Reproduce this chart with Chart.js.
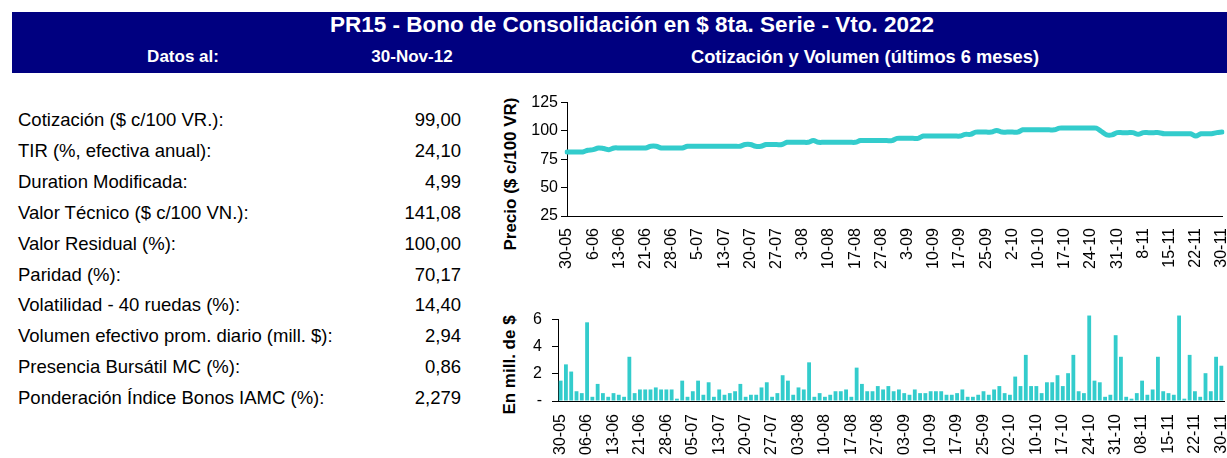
<!DOCTYPE html>
<html lang="es">
<head>
<meta charset="utf-8">
<title>PR15 - Bono de Consolidación en $ 8ta. Serie</title>
<script src="https://cdn.jsdelivr.net/npm/chart.js@4.4.1/dist/chart.umd.min.js"></script>
<style>
  html, body { margin: 0; padding: 0; background: #fff; }
  body { width: 1227px; height: 458px; overflow: hidden; position: relative;
         font-family: "Liberation Sans", Arial, sans-serif; color: #000; }
  .band { position: absolute; left: 12px; top: 12px; width: 1215px; height: 61px; background: #000080; }
  .hdr { position: absolute; color: #fff; font-weight: bold; white-space: nowrap;
         transform: translate(-50%, -50%); }
  .row { position: absolute; left: 18px; width: 443px; height: 22px; font-size: 18.5px; white-space: nowrap; }
  .row .lbl { position: absolute; left: 0; top: 0; }
  .row .val { position: absolute; right: 0; top: 0; }
  .axt { position: absolute; font-weight: bold; font-size: 17px; white-space: nowrap;
         transform: translate(-50%, -50%) rotate(-90deg); }
  canvas { position: absolute; }
</style>
</head>
<body>
<div class="band"></div>
<div class="hdr" style="left:632px;top:25px;font-size:22.5px;">PR15 - Bono de Consolidación en $ 8ta. Serie - Vto. 2022</div>
<div class="hdr" style="left:183px;top:57px;font-size:17px;">Datos al:</div>
<div class="hdr" style="left:412px;top:57px;font-size:17px;">30-Nov-12</div>
<div class="hdr" style="left:865px;top:57px;font-size:18.3px;">Cotización y Volumen (últimos 6 meses)</div>

<div id="tabla"></div>

<div class="axt" style="left:511px;top:174px;">Precio ($ c/100 VR)</div>
<div class="axt" style="left:510px;top:365px;">En mill. de $</div>

<canvas id="precio" width="727" height="190" style="left:500px;top:90px;"></canvas>
<canvas id="volumen" width="737" height="158" style="left:490px;top:300px;"></canvas>

<script>
// Ficha técnica del bono
const indicadores = [
  "Cotización ($ c/100 VR.):",
  "TIR (%, efectiva anual):",
  "Duration Modificada:",
  "Valor Técnico ($ c/100 VN.):",
  "Valor Residual (%):",
  "Paridad (%):",
  "Volatilidad - 40 ruedas (%):",
  "Volumen efectivo prom. diario (mill. $):",
  "Presencia Bursátil MC (%):",
  "Ponderación Índice Bonos IAMC (%):"
];
const valoresIndicadores = ["99,00", "24,10", "4,99", "141,08", "100,00", "70,17", "14,40", "2,94", "0,86", "2,279"];

// Ruedas operadas (dd-mm), 30-05-2012 a 30-11-2012
const fechas = [
  "30-05","31-05","01-06","04-06","05-06","06-06","07-06","08-06","11-06","12-06",
  "13-06","14-06","15-06","18-06","19-06","21-06","22-06","25-06","26-06","27-06",
  "28-06","29-06","02-07","03-07","04-07","05-07","06-07","10-07","11-07","12-07",
  "13-07","16-07","17-07","18-07","19-07","20-07","23-07","24-07","25-07","26-07",
  "27-07","30-07","31-07","01-08","02-08","03-08","06-08","07-08","08-08","09-08",
  "10-08","13-08","14-08","15-08","16-08","17-08","21-08","22-08","23-08","24-08",
  "27-08","28-08","29-08","30-08","31-08","03-09","04-09","05-09","06-09","07-09",
  "10-09","11-09","12-09","13-09","14-09","17-09","18-09","19-09","20-09","21-09",
  "25-09","26-09","27-09","28-09","01-10","02-10","03-10","04-10","05-10","09-10",
  "10-10","11-10","12-10","15-10","16-10","17-10","18-10","19-10","22-10","23-10",
  "24-10","25-10","26-10","29-10","30-10","31-10","01-11","05-11","06-11","07-11",
  "08-11","09-11","12-11","13-11","14-11","15-11","16-11","19-11","20-11","21-11",
  "22-11","23-11","27-11","28-11","29-11","30-11"
];

// Precio de cierre ($ c/100 VR)
const precio = [
  81.5, 81.5, 81.5, 81.5, 83.0, 83.5, 85.0, 84.5, 83.5, 85.0,
  85.0, 85.0, 85.0, 85.0, 85.0, 85.0, 86.5, 86.5, 85.0, 85.0,
  85.0, 85.0, 85.0, 86.5, 86.5, 86.5, 86.5, 86.5, 86.5, 86.5,
  86.5, 86.5, 86.5, 86.5, 88.0, 88.0, 86.5, 86.5, 88.0, 88.0,
  88.0, 88.0, 90.0, 90.0, 90.0, 90.0, 90.0, 91.5, 90.0, 90.0,
  90.0, 90.0, 90.0, 90.0, 90.0, 90.0, 91.5, 91.5, 91.5, 91.5,
  91.5, 91.5, 91.5, 93.5, 93.5, 93.5, 93.5, 93.5, 95.5, 95.5,
  95.5, 95.5, 95.5, 95.5, 95.5, 95.5, 97.0, 97.0, 99.0, 99.0,
  99.0, 99.0, 100.5, 99.0, 99.0, 99.0, 99.0, 101.0, 101.0, 101.0,
  101.0, 101.0, 101.0, 101.0, 102.5, 102.5, 102.5, 102.5, 102.5, 102.5,
  102.5, 102.5, 99.5, 96.5, 96.5, 98.5, 98.5, 98.5, 98.5, 97.0,
  98.5, 98.5, 98.5, 98.5, 97.5, 97.5, 97.5, 97.5, 97.5, 97.5,
  95.5, 97.5, 97.5, 97.5, 98.5, 99.0
];

// Volumen efectivo diario (millones de $)
const volumen = [
  1.50, 2.70, 2.17, 0.72, 0.58, 5.80, 0.31, 1.26, 0.58, 0.31,
  0.58, 0.46, 0.31, 3.26, 0.58, 0.85, 0.85, 0.85, 1.00, 0.85,
  0.85, 0.85, 0.17, 1.50, 0.31, 0.72, 1.50, 0.46, 1.38, 0.31,
  0.85, 0.46, 0.58, 0.72, 1.26, 0.31, 0.46, 0.46, 1.00, 1.38,
  0.31, 0.58, 1.90, 1.50, 0.46, 1.00, 0.85, 2.85, 0.31, 0.58,
  0.31, 0.46, 0.72, 0.72, 0.85, 0.31, 2.46, 1.26, 0.72, 0.72,
  1.10, 0.85, 1.10, 0.72, 0.85, 0.58, 0.46, 0.85, 0.58, 0.58,
  0.72, 0.72, 0.72, 0.46, 0.46, 0.58, 0.85, 0.31, 0.31, 0.46,
  0.72, 0.46, 0.85, 1.10, 0.58, 0.46, 1.80, 1.10, 3.40, 1.10,
  1.10, 0.58, 1.38, 1.38, 1.90, 1.10, 2.05, 3.40, 0.72, 0.58,
  6.30, 1.50, 1.38, 0.31, 0.46, 4.85, 3.26, 0.31, 0.17, 0.58,
  1.50, 0.46, 0.85, 3.26, 0.72, 0.58, 0.46, 6.30, 0.17, 3.40,
  0.72, 0.31, 2.05, 0.72, 3.26, 2.60
];

const preciosTicks = [25, 50, 75, 100, 125];
const volumenTicks = [0, 2, 4, 6];

const TURQUESA = "#33CCCC";
const FUENTE = "'Liberation Sans', Arial, sans-serif";

// tabla de indicadores
const tabla = document.getElementById("tabla");
indicadores.forEach((txt, i) => {
  const r = document.createElement("div");
  r.className = "row";
  r.style.top = (109 + i * 30.9) + "px";
  r.innerHTML = '<span class="lbl"></span><span class="val"></span>';
  r.querySelector(".lbl").textContent = txt;
  r.querySelector(".val").textContent = valoresIndicadores[i];
  tabla.appendChild(r);
});

Chart.defaults.font.family = FUENTE;
Chart.defaults.color = "#000";

const base = {
  responsive: false,
  animation: false,
  events: [],
  plugins: { legend: { display: false }, tooltip: { enabled: false } }
};

// el eje de fechas no reserva margen lateral para las etiquetas giradas
const sinMargenLateral = alto => s => {
  s.height = alto;
  s.paddingLeft = 0;
  s.paddingRight = 0;
};

// Cotización
new Chart(document.getElementById("precio"), {
  type: "line",
  data: {
    labels: fechas,
    datasets: [{
      data: precio,
      borderColor: TURQUESA,
      borderWidth: 5,
      pointRadius: 0,
      tension: 0.35,
      fill: false,
      borderJoinStyle: "round",
      borderCapStyle: "round"
    }]
  },
  options: Object.assign({}, base, {
    layout: { padding: { top: 12, right: 5, left: 0, bottom: 0 } },
    scales: {
      x: {
        grid: { display: false, drawTicks: false },
        border: { color: "#000", width: 1 },
        ticks: {
          autoSkip: false, minRotation: 90, maxRotation: 90, padding: 12,
          font: { size: 16 },
          callback: (v, i) => (i % 5 === 0 ? fechas[i].replace(/^0/, "") : null)
        },
        afterFit: sinMargenLateral(64)
      },
      y: {
        min: preciosTicks[0], max: preciosTicks[preciosTicks.length - 1],
        afterBuildTicks: s => { s.ticks = preciosTicks.map(v => ({ value: v })); },
        ticks: { padding: 3, font: { size: 16 } },
        grid: { drawOnChartArea: false, tickLength: 6, color: "#000" },
        border: { color: "#000", width: 1 },
        afterFit: s => { s.width = 67; }
      }
    }
  })
});

// Volumen
new Chart(document.getElementById("volumen"), {
  type: "bar",
  data: {
    labels: fechas,
    datasets: [{
      data: volumen,
      backgroundColor: TURQUESA,
      borderWidth: 0,
      barPercentage: 0.85,
      categoryPercentage: 0.85,
      clip: false
    }]
  },
  options: Object.assign({}, base, {
    layout: { padding: { top: 18, right: 3, left: 0, bottom: 0 } },
    scales: {
      x: {
        grid: { display: false, drawTicks: false },
        border: { color: "#000", width: 1 },
        ticks: {
          autoSkip: false, minRotation: 90, maxRotation: 90, padding: 13,
          font: { size: 16 },
          callback: (v, i) => (i % 5 === 0 ? fechas[i] : null)
        },
        afterFit: sinMargenLateral(57)
      },
      y: {
        min: volumenTicks[0], max: volumenTicks[volumenTicks.length - 1],
        afterBuildTicks: s => { s.ticks = volumenTicks.map(v => ({ value: v })); },
        ticks: { padding: 10, font: { size: 16 }, callback: v => (v === 0 ? "-" : String(v)) },
        grid: { drawOnChartArea: false, tickLength: 6, color: "#000" },
        border: { color: "#000", width: 1 },
        afterFit: s => { s.width = 68; }
      }
    }
  })
});
</script>
</body>
</html>
